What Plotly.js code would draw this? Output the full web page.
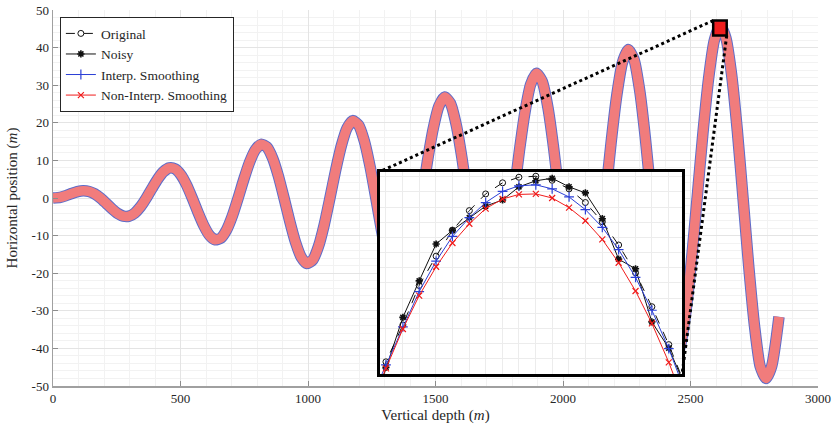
<!DOCTYPE html>
<html>
<head>
<meta charset="utf-8">
<script src="https://cdn.plot.ly/plotly-3.0.1.min.js"></script>
<style>
html,body{margin:0;padding:0;background:#fff;}
#chart{width:834px;height:431px;}
</style>
</head>
<body>
<div id="chart"></div>
<script>
// ---- main curve ----
const depth = [0,28.5,51,73.5,96,118.5,141,163.5,186,208.5,231,253.5,276,298.5,321,343.5,366,388.5,411,433.5,456,478.5,501,523.5,546,568.5,591,613.5,636,658.5,681,703.5,726,748.5,771,793.5,816,838.5,861,883.5,906,928.5,951,973.5,996,1018.5,1041,1063.5,1086,1108.5,1131,1153.5,1176,1198.5,1221,1243.5,1266,1288.5,1311,1333.5,1356,1378.5,1401,1423.5,1446,1468.5,1491,1513.5,1536,1558.5,1581,1603.5,1626,1648.5,1671,1693.5,1716,1738.5,1761,1783.5,1806,1828.5,1851,1873.5,1896,1918.5,1941,1963.5,1986,2008.5,2031,2053.5,2076,2098.5,2121,2143.5,2166,2188.5,2211,2233.5,2256,2278.5,2301,2323.5,2346,2368.5,2391,2413.5,2436,2458.5,2481,2503.5,2526,2548.5,2571,2593.5,2616,2638.5,2661,2683.5,2706,2728.5,2751,2773.5,2796,2818.5,2847];
const position = [0,0.19,0.63,1.19,1.68,1.92,1.74,1.10,0,-1.40,-2.86,-4.10,-4.83,-4.83,-3.97,-2.30,0,2.60,5.09,7.01,7.98,7.74,6.20,3.51,0,-3.81,-7.31,-9.92,-11.13,-10.65,-8.43,-4.72,0,5.02,9.54,12.83,14.28,13.56,10.65,5.92,0,-6.22,-11.77,-15.74,-17.43,-16.47,-12.88,-7.13,0,7.43,13.99,18.65,20.58,19.38,15.11,8.33,0,-8.64,-16.22,-21.56,-23.73,-22.29,-17.33,-9.54,0,9.84,18.45,24.47,26.88,25.20,19.56,10.75,0,-11.05,-20.67,-27.38,-30.03,-28.11,-21.79,-11.95,0,12.26,22.90,30.29,33.18,31.02,24.01,13.16,0,-13.46,-25.13,-33.21,-36.33,-33.93,-26.24,-14.37,0,14.67,27.36,36.12,39.48,36.84,28.47,15.57,0,-15.87,-29.58,-39.03,-42.63,-39.75,-30.70,-16.78,0,17.08,31.81,41.94,45.78,42.66,32.92,17.99,0,-18.29,-34.04,-44.85,-48.0,-44.7,-31.6];

// ---- inset (zoom on the last peak) ----
const insetDepth = [2588.2,2591.0,2593.8,2596.5,2599.3,2602.0,2604.8,2607.5,2610.3,2613.0,2615.8,2618.5,2621.3,2624.0,2626.8,2629.5,2632.3,2635.0,2637.8,2640.5];
const original   = [42.64,43.44,44.17,44.95,45.53,46.04,46.43,46.76,46.98,47.09,47.11,47.03,46.86,46.59,46.21,45.75,45.20,44.53,43.78,42.98];
const noisy      = [42.30,43.33,44.32,45.04,45.77,46.04,46.29,46.52,46.64,46.90,47.02,47.07,46.90,46.78,46.27,45.47,45.28,44.23,43.71,42.96];
const interpSm   = [42.63,43.38,44.13,44.83,45.43,45.92,46.29,46.59,46.81,46.92,46.94,46.86,46.70,46.45,46.10,45.66,45.11,44.46,43.70,42.85];
const nonInterpSm= [42.53,43.31,44.09,44.75,45.32,45.79,46.17,46.47,46.66,46.75,46.76,46.68,46.49,46.23,45.86,45.40,44.84,44.20,43.43,42.58];

const seriesNames = ['Original','Noisy','Interp. Smoothing','Non-Interp. Smoothing'];
const xTicks = [0,500,1000,1500,2000,2500,3000];
const yTicks = [-50,-40,-30,-20,-10,0,10,20,30,40,50];

// zoom window (main data coords) and inset placement (main data coords)
const zoomBox = {x0:2589, x1:2642, y0:43.2, y1:47.2};
const insetRange = {x0:2590, x1:2640, y0:43.2, y1:47.2};
const insetBox = {x0:1282, x1:2467, y0:-46.8, y1:7};
const xMain = [0,3000], yMain = [-50,50];

const FONT = 'Liberation Serif, Times New Roman, serif';
const TXT = '#262626';

const px = v => (v - xMain[0])/(xMain[1]-xMain[0]);
const py = v => (v - yMain[0])/(yMain[1]-yMain[0]);

const traces = [
  {x:depth, y:position, type:'scatter', mode:'lines', line:{color:'#5d6cc9', width:11.5, shape:'spline', smoothing:0.6}, showlegend:false, hoverinfo:'skip', xaxis:'x', yaxis:'y'},
  {x:depth, y:position, type:'scatter', mode:'lines', line:{color:'#f17c7c', width:9.5, shape:'spline', smoothing:0.6}, showlegend:false, hoverinfo:'skip', xaxis:'x', yaxis:'y'},
  {x:insetDepth, y:original, name:seriesNames[0], type:'scatter', mode:'lines+markers', line:{color:'#111', width:1, dash:'dash'}, marker:{symbol:'circle-open', size:6, color:'#111', line:{width:1}}, xaxis:'x2', yaxis:'y2'},
  {x:insetDepth, y:noisy, name:seriesNames[1], type:'scatter', mode:'lines+markers', line:{color:'#111', width:1}, marker:{symbol:'asterisk-open', size:6, color:'#111', line:{width:1.6}}, xaxis:'x2', yaxis:'y2'},
  {x:insetDepth, y:interpSm, name:seriesNames[2], type:'scatter', mode:'lines+markers', line:{color:'#2b3fd6', width:1}, marker:{symbol:'cross-thin-open', size:7, color:'#2b3fd6', line:{width:1.2}}, xaxis:'x2', yaxis:'y2'},
  {x:insetDepth, y:nonInterpSm, name:seriesNames[3], type:'scatter', mode:'lines+markers', line:{color:'#f01c1c', width:1}, marker:{symbol:'x-thin-open', size:6, color:'#f01c1c', line:{width:1.2}}, xaxis:'x2', yaxis:'y2'}
];

const layout = {
  width:834, height:431,
  margin:{l:53, r:16, t:10, b:45},
  paper_bgcolor:'#fff', plot_bgcolor:'#fff',
  font:{family:FONT, size:13, color:TXT},
  showlegend:true,
  legend:{x:0.009, y:0.981, xanchor:'left', yanchor:'top', bgcolor:'#fff', bordercolor:'#262626', borderwidth:1, font:{family:FONT, size:13.5, color:TXT}, tracegroupgap:0, itemwidth:30},
  xaxis:{range:xMain, tickvals:xTicks, ticktext:xTicks.map(String), ticks:'inside', ticklen:5, tickcolor:'#8c8c8c',
    showline:true, linecolor:'#a0a0a0', linewidth:1.5, showgrid:true, gridcolor:'#e4e4e4', zeroline:false,
    minor:{dtick:100, showgrid:true, gridcolor:'#f2f2f2', ticks:''},
    tickfont:{family:FONT, size:13, color:TXT},
    title:{text:'Vertical depth (<i>m</i>)', font:{family:FONT, size:15, color:TXT}, standoff:4}},
  yaxis:{range:yMain, tickvals:yTicks, ticktext:yTicks.map(String), ticks:'inside', ticklen:5, tickcolor:'#8c8c8c',
    showline:true, linecolor:'#a0a0a0', linewidth:1.5, showgrid:true, gridcolor:'#e4e4e4', zeroline:false,
    minor:{dtick:2, showgrid:true, gridcolor:'#f2f2f2', ticks:''},
    tickfont:{family:FONT, size:13, color:TXT},
    title:{text:'Horizontal position (<i>m</i>)', font:{family:FONT, size:15, color:TXT}, standoff:10}},
  xaxis2:{domain:[px(insetBox.x0), px(insetBox.x1)], anchor:'y2', range:[insetRange.x0, insetRange.x1],
    showticklabels:false, ticks:'', showgrid:true, gridcolor:'#ececec', dtick:2.75, tick0:2591, zeroline:false,
    showline:true, mirror:true, linecolor:'#000', linewidth:3},
  yaxis2:{domain:[py(insetBox.y0), py(insetBox.y1)], anchor:'x2', range:[insetRange.y0, insetRange.y1],
    showticklabels:false, ticks:'', showgrid:true, gridcolor:'#ececec', dtick:0.3, zeroline:false,
    showline:true, mirror:true, linecolor:'#000', linewidth:3},
  shapes:[
    {type:'line', xref:'x', yref:'y', x0:zoomBox.x0, y0:zoomBox.y1, x1:insetBox.x0, y1:insetBox.y1, line:{color:'#000', width:3, dash:'dot'}, layer:'above'},
    {type:'line', xref:'x', yref:'y', x0:zoomBox.x1, y0:zoomBox.y0, x1:insetBox.x1, y1:insetBox.y0, line:{color:'#000', width:3, dash:'dot'}, layer:'above'},
    {type:'rect', xref:'x', yref:'y', x0:zoomBox.x0, x1:zoomBox.x1, y0:zoomBox.y0, y1:zoomBox.y1, line:{color:'#000', width:2.5}, fillcolor:'rgba(240,20,20,0.9)', layer:'above'}
  ]
};

Plotly.newPlot('chart', traces, layout, {staticPlot:true, displayModeBar:false});
</script>
</body>
</html>
